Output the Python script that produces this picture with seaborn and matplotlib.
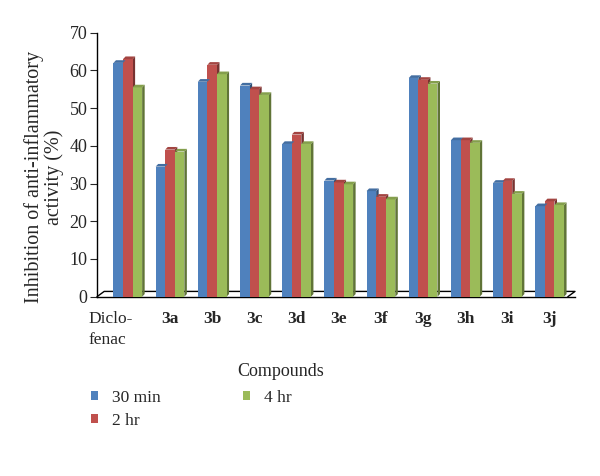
import matplotlib
matplotlib.use("Agg")
import matplotlib.pyplot as plt
import matplotlib.colors as mcolors
import matplotlib.transforms as mtransforms
from matplotlib.patches import Polygon, Patch
import seaborn as sns
import pandas as pd

compounds = ["Diclofenac", "3a", "3b", "3c", "3d", "3e", "3f", "3g", "3h", "3i", "3j"]
tick_labels = ["Diclo-\nfenac", "3a", "3b", "3c", "3d", "3e", "3f", "3g", "3h", "3i", "3j"]
series = ["30 min", "2 hr", "4 hr"]
v_30min = [62.0, 34.5, 57.0, 56.0, 40.5, 30.8, 28.0, 58.0, 41.5, 30.2, 24.0]
v_2hr = [63.0, 39.0, 61.5, 55.0, 43.0, 30.3, 26.5, 57.5, 41.5, 30.7, 25.3]
v_4hr = [55.5, 38.5, 59.0, 53.5, 40.5, 29.8, 25.8, 56.5, 40.8, 27.3, 24.3]
colors = ["#4f81bd", "#c0504d", "#9bbb59"]

rows = []
for s, vals in zip(series, [v_30min, v_2hr, v_4hr]):
    for c, v in zip(compounds, vals):
        rows.append({"Compound": c, "Series": s, "Value": v})
df = pd.DataFrame(rows)

sns.set_style("white")
plt.rcParams["font.family"] = ["Liberation Serif", "DejaVu Serif"]

fig = plt.figure(figsize=(6, 4.76), dpi=100)
ax = fig.add_axes([97 / 600, 1 - 296.7 / 476, 478 / 600, 264 / 476])

sns.barplot(data=df, x="Compound", y="Value", hue="Series", order=compounds,
            hue_order=series, palette=colors, width=0.68, gap=0.0,
            saturation=1, legend=False, ax=ax, zorder=3, linewidth=0)

dx, dy = 0.06, 0.7
for patch in list(ax.patches):
    x0, y0 = patch.get_x(), patch.get_y()
    w, h = patch.get_width(), patch.get_height()
    if w <= 0:
        continue
    x1, y1 = x0 + w, y0 + h
    col = mcolors.to_rgb(patch.get_facecolor())
    dark = tuple(c * 0.62 for c in col)
    light = tuple(min(1, c * 0.85) for c in col)
    side = Polygon([(x1, y0), (x1 + dx, y0 + dy), (x1 + dx, y1 + dy), (x1, y1)],
                   closed=True, facecolor=dark, edgecolor="none", zorder=2.9)
    top = Polygon([(x0, y1), (x0 + dx, y1 + dy), (x1 + dx, y1 + dy), (x1, y1)],
                  closed=True, facecolor=light, edgecolor="none", zorder=3.1)
    ax.add_patch(side)
    ax.add_patch(top)

ax.set_xlim(-0.73, 10.6)
ax.set_ylim(0, 70)
ax.set_yticks(range(0, 71, 10))
ax.tick_params(axis="y", labelsize=13, length=5, direction="out", left=True, width=0.8, pad=2)
ax.tick_params(axis="x", length=0, labelsize=12.5, pad=10)
ax.set_xticks(range(len(compounds)))
ax.set_xticklabels(tick_labels, ha="center")
for i, t in enumerate(ax.get_xticklabels()):
    if i == 0:
        t.set_ha("center")
        t.set_multialignment("left")
        t.set_linespacing(1.45)
        t.set_transform(t.get_transform() + mtransforms.ScaledTranslation(-17 / 100, 0, fig.dpi_scale_trans))
    else:
        t.set_fontweight("bold")
        t.set_va("top")

for sp in ["top", "right"]:
    ax.spines[sp].set_visible(False)
ax.spines["left"].set_color("black")
ax.spines["bottom"].set_color("black")
ax.spines["left"].set_linewidth(1)
ax.spines["bottom"].set_linewidth(1)

# 3D floor outline
ax.plot([0, 0.015, 1.0, 0.985], [0, 0.02, 0.02, 0], transform=ax.transAxes,
        color="black", lw=1, clip_on=False, zorder=1)

ax.set_ylabel("Inhibition of anti-inflammatory\nactivity (%)", fontsize=14.5, linespacing=1.0)
ax.yaxis.set_label_coords(-0.07, 0.453)
ax.set_xlabel("Compounds", fontsize=13)
ax.xaxis.set_label_coords(0.385, -0.25)

handles = [Patch(facecolor=c, edgecolor="none") for c in colors]
fig.legend(handles, series, loc="upper left", bbox_to_anchor=(91 / 600, 1 - 390 / 476),
           ncol=2, frameon=False, fontsize=12.5, handlelength=0.42, handleheight=0.42,
           handletextpad=0.8, columnspacing=4.7, labelspacing=0.38, borderpad=0,
           borderaxespad=0)

fig.savefig("out.png", dpi=100)
